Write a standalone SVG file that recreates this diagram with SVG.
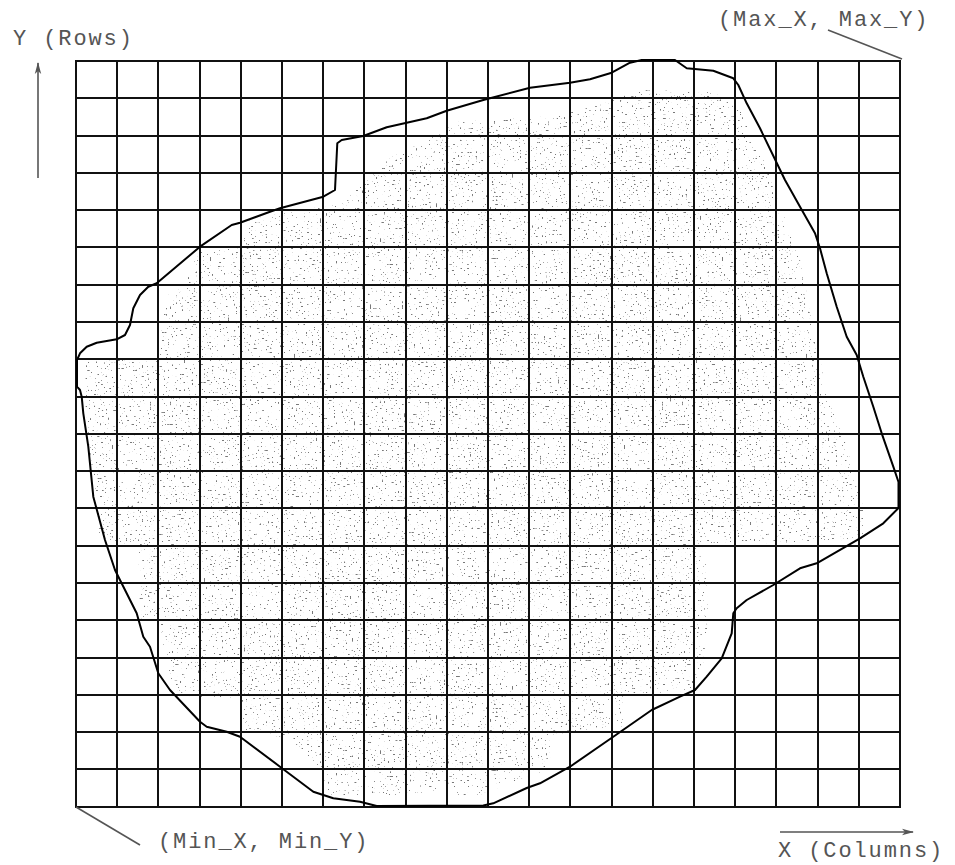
<svg xmlns="http://www.w3.org/2000/svg" width="955" height="865" viewBox="0 0 955 865">
<style>
.lbl{font-family:"Liberation Mono","DejaVu Sans Mono",monospace;font-size:22px;fill:#555;letter-spacing:1.9px}
.ax{stroke:#555;stroke-width:1.6;fill:none}
.grid{stroke:#111;stroke-width:2;fill:none}
.outline{stroke:#000;stroke-width:2;fill:none;stroke-linejoin:round}
</style>
<defs>
<marker id="arr" viewBox="0 0 12 8" refX="11" refY="4" markerWidth="12" markerHeight="8" markerUnits="userSpaceOnUse" orient="auto">
<path d="M0,0.8 L12,4 L0,7.2 L3,4 z" fill="#555"/>
</marker>
<filter id="stip" filterUnits="userSpaceOnUse" x="70" y="50" width="840" height="760" color-interpolation-filters="sRGB">
<feTurbulence type="fractalNoise" baseFrequency="0.5" numOctaves="1" seed="11" result="n"/>
<feColorMatrix in="n" type="matrix" values="0 0 0 0 0.47  0 0 0 0 0.47  0 0 0 0 0.47  22 0 0 0 -15.2"/>
</filter>
<clipPath id="inner">
<polygon points="640,90 720,92 740,110 760,150 780,205 800,260 810,310 820,357 826,395 847,447 857,490 866,508 862,540 705,545 708,620 700,690 623,695 623,730 552,735 550,770 530,775 480,795 330,795 320,770 290,738 245,732 240,700 175,695 165,660 160,622 140,618 138,545 100,540 92,470 85,400 85,360 160,358 162,322 170,290 180,285 200,252 243,245 248,220 300,210 345,200 390,158 433,137 457,122 540,117 600,105"/>
</clipPath>
</defs>
<rect width="955" height="865" fill="#fff"/>
<g id="stipple" clip-path="url(#inner)">
<rect x="70" y="50" width="840" height="760" fill="#777" filter="url(#stip)"/>
</g>
<g id="grid">
<path class="grid" d="M76,61 V807 M117,61 V807 M158,61 V807 M200,61 V807 M241,61 V807 M282,61 V807 M323,61 V807 M364,61 V807 M406,61 V807 M447,61 V807 M488,61 V807 M529,61 V807 M570,61 V807 M612,61 V807 M653,61 V807 M694,61 V807 M735,61 V807 M776,61 V807 M818,61 V807 M859,61 V807 M900,61 V807
M75,61 H901 M75,98 H901 M75,136 H901 M75,173 H901 M75,210 H901 M75,247 H901 M75,285 H901 M75,322 H901 M75,359 H901 M75,397 H901 M75,434 H901 M75,471 H901 M75,508 H901 M75,546 H901 M75,583 H901 M75,620 H901 M75,658 H901 M75,695 H901 M75,732 H901 M75,769 H901 M75,807 H901"/>
</g>
<g id="boundary">
<polygon class="outline" points="641.7,60 675,60 686.7,68.3 713.3,70.7 733.3,78.3 738.3,85 746.7,103.3 760,128.3 785,180 800,206.7 815,233.3 820,248.3 826.7,273.3 836.7,306.7 846.7,336.7 856.7,355 863.3,376.7 873.3,406.7 881.7,433.3 893.3,466.7 898.5,482 898.5,508 883.3,523.3 860,538.3 816.7,563.3 800,568.3 773.3,585 746.7,600 736.7,608.3 733.3,613.3 731.7,633.3 721.7,658.3 706.7,676.7 695,690 680,696.7 651.7,710 613.3,736.7 570,766.7 540,783.3 526.7,788 493.3,803.3 483.3,805.5 376.7,806 360,801.7 333.3,798.3 313.3,791.7 280,766.7 240,736.7 226.7,731.7 206.7,726.7 200,721.7 170,690 158.3,673.3 150,646.7 143.3,636.7 136.7,613.3 120,580 115,570 105,540 93.3,496.7 88.3,446.7 83.3,413.3 81.7,396.7 80,390 77,386.7 77,360 80,353.3 86.7,346.7 96.7,342.7 116.7,339.3 125,335 130,325 133.3,308.3 140,295 148.3,286.7 156.7,283.3 200,246.7 231.7,225 240,222.7 270,211.7 280,208.3 323.3,196.7 335,190 337.3,143.3 341.7,140 363.3,136 386.7,127.3 426.7,118.3 446.7,110.7 483.3,100 530,87.7 570,82.7 590,79.3 611.7,72.7 630,62.7"/>
</g>
<g id="y-axis">
<line class="ax" x1="38" y1="178" x2="38" y2="63" marker-end="url(#arr)"/>
<text class="lbl" x="13" y="45">Y (Rows)</text>
</g>
<g id="x-axis">
<line class="ax" x1="780" y1="832" x2="913" y2="832" marker-end="url(#arr)"/>
<text class="lbl" x="778" y="857">X (Columns)</text>
</g>
<g id="max-label">
<line class="ax" x1="828" y1="30" x2="902" y2="59"/>
<text class="lbl" x="718" y="26">(Max_X, Max_Y)</text>
</g>
<g id="min-label">
<line class="ax" x1="76" y1="807" x2="140" y2="845"/>
<text class="lbl" x="158" y="848">(Min_X, Min_Y)</text>
</g>
</svg>
